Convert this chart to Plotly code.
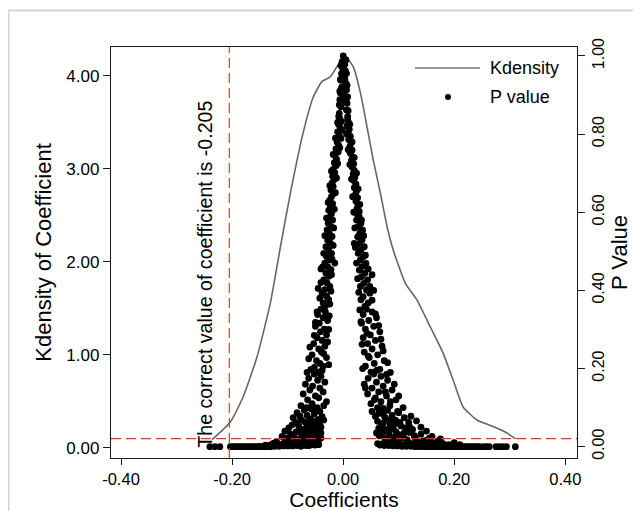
import plotly.graph_objects as go

# ---------------- data ----------------
kd_coef = [-0.236, -0.203, -0.180, -0.155, -0.131, -0.113, -0.095, -0.072, -0.054, -0.038,
           -0.023, -0.011, 0.000, 0.004, 0.018, 0.031, 0.043, 0.054, 0.067, 0.079,
           0.090, 0.112, 0.133, 0.157, 0.180, 0.198, 0.216, 0.241, 0.270, 0.295, 0.310]
kd_dens = [0.09, 0.28, 0.55, 0.98, 1.56, 2.16, 2.74, 3.39, 3.77, 3.94,
           3.99, 4.10, 4.20, 4.21, 4.10, 3.82, 3.45, 3.10, 2.74, 2.38,
           2.13, 1.77, 1.59, 1.30, 1.02, 0.73, 0.44, 0.30, 0.23, 0.16, 0.10]

top_pts = [(0.000, 1.000), (0.002, 0.992), (-0.002, 0.985), (0.003, 0.978), (-0.001, 0.970),
           (0.004, 0.962), (-0.003, 0.955), (0.002, 0.947), (-0.004, 0.938), (0.005, 0.930),
           (-0.002, 0.921), (0.006, 0.913), (-0.005, 0.905), (0.004, 0.896), (-0.006, 0.888),
           (0.007, 0.879), (-0.004, 0.870), (0.006, 0.862), (-0.007, 0.853), (0.008, 0.845),
           (0.001, 0.975), (-0.001, 0.958), (0.003, 0.940), (-0.003, 0.918), (0.001, 0.900),
           (0.004, 0.883), (0.005, 0.990), (-0.004, 0.975), (0.006, 0.955), (-0.005, 0.940),
           (0.007, 0.925), (-0.006, 0.910), (0.008, 0.895), (-0.007, 0.875), (0.009, 0.860),
           (-0.008, 0.845)]

left_arm = [(-0.006, 0.840), (-0.003, 0.832), (-0.008, 0.824), (-0.005, 0.815), (-0.010, 0.806),
            (-0.007, 0.797), (-0.004, 0.789), (-0.011, 0.780), (-0.008, 0.771), (-0.013, 0.762),
            (-0.009, 0.754), (-0.015, 0.745), (-0.012, 0.736), (-0.016, 0.727), (-0.013, 0.719),
            (-0.018, 0.710), (-0.015, 0.701), (-0.019, 0.692), (-0.016, 0.684), (-0.020, 0.675),
            (-0.018, 0.666), (-0.022, 0.657), (-0.017, 0.648), (-0.021, 0.640), (-0.024, 0.631),
            (-0.019, 0.622), (-0.023, 0.613), (-0.026, 0.605), (-0.021, 0.596),
            (-0.024, 0.588), (-0.019, 0.580), (-0.027, 0.572), (-0.022, 0.563), (-0.029, 0.555),
            (-0.025, 0.546), (-0.020, 0.538), (-0.028, 0.529), (-0.023, 0.521), (-0.031, 0.512),
            (-0.026, 0.504), (-0.021, 0.495), (-0.030, 0.487), (-0.025, 0.478), (-0.033, 0.470),
            (-0.028, 0.461), (-0.022, 0.453), (-0.031, 0.444), (-0.026, 0.436), (-0.035, 0.427),
            (-0.029, 0.419), (-0.024, 0.410), (-0.033, 0.402), (-0.038, 0.393), (-0.030, 0.385),
            (-0.026, 0.376), (-0.036, 0.368), (-0.032, 0.360), (-0.045, 0.405), (-0.040, 0.455),
            (-0.015, 0.470),
            (-0.040, 0.352), (-0.032, 0.345), (-0.046, 0.338), (-0.036, 0.330), (-0.028, 0.323),
            (-0.043, 0.316), (-0.050, 0.308), (-0.034, 0.301), (-0.041, 0.294), (-0.030, 0.286),
            (-0.047, 0.279), (-0.038, 0.272), (-0.053, 0.264), (-0.033, 0.257), (-0.044, 0.250),
            (-0.039, 0.242), (-0.056, 0.235), (-0.030, 0.228), (-0.048, 0.220), (-0.042, 0.213),
            (-0.036, 0.206), (-0.058, 0.198), (-0.045, 0.191),
            (-0.052, 0.186), (-0.040, 0.180), (-0.062, 0.175), (-0.046, 0.170), (-0.033, 0.165),
            (-0.068, 0.160), (-0.055, 0.155), (-0.042, 0.150), (-0.060, 0.145), (-0.036, 0.140),
            (-0.072, 0.135), (-0.050, 0.130), (-0.044, 0.125), (-0.064, 0.120), (-0.030, 0.115),
            (-0.056, 0.110), (-0.076, 0.105), (-0.047, 0.100),
            (-0.058, 0.097), (-0.070, 0.093), (-0.042, 0.090), (-0.083, 0.087), (-0.052, 0.084),
            (-0.065, 0.080), (-0.038, 0.077), (-0.090, 0.074), (-0.060, 0.071), (-0.075, 0.068),
            (-0.047, 0.065), (-0.068, 0.062), (-0.055, 0.059), (-0.092, 0.056), (-0.080, 0.053),
            (-0.040, 0.050), (-0.062, 0.047), (-0.072, 0.044), (-0.050, 0.042),
            (-0.105, 0.040), (-0.085, 0.038), (-0.065, 0.036), (-0.048, 0.034), (-0.095, 0.032),
            (-0.075, 0.030), (-0.058, 0.028), (-0.110, 0.026), (-0.088, 0.024), (-0.070, 0.022),
            (-0.052, 0.020), (-0.100, 0.018), (-0.080, 0.016), (-0.062, 0.015), (-0.045, 0.014),
            (-0.120, 0.013), (-0.092, 0.012),
            (-0.045, 0.070), (-0.050, 0.030), (-0.055, 0.045), (-0.043, 0.060), (-0.060, 0.025),
            (-0.048, 0.010), (-0.066, 0.008), (-0.040, 0.022), (-0.072, 0.035), (-0.057, 0.068),
            (-0.085, 0.020), (-0.078, 0.009), (-0.098, 0.008), (-0.112, 0.006), (-0.130, 0.005),
            (-0.045, 0.045), (-0.052, 0.088),
            (-0.010, 0.830), (-0.002, 0.810), (-0.014, 0.790), (-0.006, 0.765), (-0.018, 0.748),
            (-0.010, 0.725), (-0.021, 0.705), (-0.012, 0.688), (-0.024, 0.668), (-0.014, 0.650),
            (-0.027, 0.625), (-0.016, 0.608), (-0.030, 0.585), (-0.017, 0.560), (-0.033, 0.540),
            (-0.018, 0.515), (-0.035, 0.495), (-0.020, 0.480), (-0.037, 0.460), (-0.021, 0.440),
            (-0.040, 0.420), (-0.022, 0.398), (-0.042, 0.380), (-0.024, 0.365), (-0.047, 0.345),
            (-0.025, 0.335), (-0.050, 0.318), (-0.026, 0.300), (-0.052, 0.285), (-0.028, 0.268),
            (-0.060, 0.255), (-0.035, 0.238), (-0.062, 0.225), (-0.026, 0.210), (-0.052, 0.203),
            (-0.065, 0.190), (-0.038, 0.195),
            (-0.035, 0.105), (-0.066, 0.100), (-0.048, 0.092), (-0.078, 0.078), (-0.035, 0.068),
            (-0.085, 0.062), (-0.064, 0.055), (-0.046, 0.052), (-0.098, 0.048), (-0.056, 0.038),
            (-0.080, 0.040), (-0.040, 0.035), (-0.068, 0.027), (-0.104, 0.022), (-0.046, 0.025),
            (-0.094, 0.014), (-0.058, 0.012), (-0.072, 0.012), (-0.084, 0.004), (-0.106, 0.010),
            (-0.118, 0.004), (-0.125, 0.009), (-0.140, 0.004), (-0.044, 0.005), (-0.062, 0.003),
            (-0.076, 0.001)]

right_arm = [(0.008, 0.838), (0.010, 0.829), (0.007, 0.821), (0.011, 0.812), (0.009, 0.803),
             (0.013, 0.794), (0.010, 0.786), (0.014, 0.777), (0.012, 0.768), (0.016, 0.759),
             (0.013, 0.751), (0.017, 0.742), (0.015, 0.733), (0.019, 0.724), (0.016, 0.716),
             (0.020, 0.707), (0.018, 0.698), (0.021, 0.689), (0.019, 0.681), (0.023, 0.672),
             (0.020, 0.663), (0.024, 0.654), (0.022, 0.645), (0.026, 0.637), (0.023, 0.628),
             (0.027, 0.619), (0.025, 0.610), (0.029, 0.602), (0.026, 0.593),
             (0.029, 0.588), (0.024, 0.580), (0.032, 0.571), (0.027, 0.563), (0.035, 0.554),
             (0.030, 0.546), (0.026, 0.537), (0.034, 0.529), (0.029, 0.520), (0.038, 0.512),
             (0.032, 0.503), (0.027, 0.495), (0.036, 0.486), (0.031, 0.478), (0.041, 0.469),
             (0.034, 0.461), (0.029, 0.452), (0.039, 0.444), (0.033, 0.435), (0.044, 0.427),
             (0.037, 0.418), (0.031, 0.410), (0.042, 0.401), (0.048, 0.393), (0.036, 0.384),
             (0.032, 0.376), (0.045, 0.368), (0.039, 0.359), (0.052, 0.440), (0.020, 0.520),
             (0.055, 0.400),
             (0.042, 0.352), (0.052, 0.345), (0.036, 0.338), (0.060, 0.330), (0.046, 0.323),
             (0.033, 0.316), (0.055, 0.308), (0.040, 0.301), (0.066, 0.294), (0.049, 0.286),
             (0.036, 0.279), (0.058, 0.272), (0.044, 0.264), (0.070, 0.257), (0.052, 0.250),
             (0.038, 0.242), (0.062, 0.235), (0.047, 0.228), (0.074, 0.220), (0.056, 0.213),
             (0.040, 0.206), (0.066, 0.198), (0.050, 0.191), (0.078, 0.185),
             (0.055, 0.186), (0.068, 0.180), (0.045, 0.175), (0.080, 0.170), (0.060, 0.165),
             (0.038, 0.160), (0.072, 0.155), (0.052, 0.150), (0.088, 0.145), (0.064, 0.140),
             (0.044, 0.135), (0.078, 0.130), (0.058, 0.125), (0.095, 0.120), (0.068, 0.115),
             (0.050, 0.110), (0.084, 0.105), (0.062, 0.100),
             (0.066, 0.097), (0.080, 0.093), (0.052, 0.090), (0.100, 0.087), (0.072, 0.084),
             (0.088, 0.080), (0.058, 0.077), (0.110, 0.074), (0.076, 0.071), (0.094, 0.068),
             (0.062, 0.065), (0.118, 0.062), (0.084, 0.059), (0.070, 0.056), (0.104, 0.053),
             (0.090, 0.050), (0.064, 0.047), (0.125, 0.044), (0.078, 0.042),
             (0.070, 0.040), (0.095, 0.038), (0.120, 0.036), (0.082, 0.034), (0.140, 0.032),
             (0.105, 0.030), (0.065, 0.028), (0.160, 0.026), (0.090, 0.024), (0.130, 0.022),
             (0.075, 0.020), (0.115, 0.018), (0.150, 0.016), (0.100, 0.015), (0.170, 0.014),
             (0.085, 0.013), (0.135, 0.012),
             (0.070, 0.030), (0.080, 0.010), (0.090, 0.045), (0.100, 0.020), (0.110, 0.035),
             (0.125, 0.008), (0.095, 0.060), (0.075, 0.075), (0.085, 0.025), (0.105, 0.005),
             (0.145, 0.007), (0.160, 0.010), (0.180, 0.008), (0.190, 0.005), (0.120, 0.050),
             (0.068, 0.050), (0.060, 0.035),
             (0.012, 0.825), (0.006, 0.800), (0.016, 0.780), (0.009, 0.760), (0.020, 0.740),
             (0.012, 0.722), (0.024, 0.700), (0.015, 0.685), (0.027, 0.660), (0.017, 0.640),
             (0.030, 0.620), (0.019, 0.600), (0.033, 0.580), (0.021, 0.560), (0.037, 0.540),
             (0.022, 0.510), (0.040, 0.490), (0.024, 0.470), (0.045, 0.455), (0.026, 0.430),
             (0.048, 0.410), (0.028, 0.395), (0.052, 0.375), (0.030, 0.350), (0.058, 0.340),
             (0.032, 0.320), (0.064, 0.310), (0.043, 0.290), (0.068, 0.275), (0.034, 0.262),
             (0.072, 0.245), (0.045, 0.232), (0.080, 0.215), (0.035, 0.200), (0.060, 0.195),
             (0.085, 0.190),
             (0.040, 0.150), (0.092, 0.160), (0.076, 0.140), (0.100, 0.130), (0.056, 0.120),
             (0.085, 0.115), (0.108, 0.100), (0.072, 0.098), (0.098, 0.090), (0.122, 0.078),
             (0.064, 0.085), (0.086, 0.070), (0.132, 0.066), (0.102, 0.062), (0.072, 0.060),
             (0.140, 0.050), (0.112, 0.048), (0.080, 0.045), (0.150, 0.040), (0.098, 0.032),
             (0.128, 0.028), (0.155, 0.022), (0.108, 0.022), (0.175, 0.020), (0.145, 0.015),
             (0.118, 0.010), (0.200, 0.010), (0.165, 0.004), (0.138, 0.006), (0.210, 0.005),
             (0.092, 0.012), (0.076, 0.015)]

bottom_left = [(-0.240, 0.000), (-0.231, 0.000), (-0.222, 0.000),
               (-0.203, 0.000), (-0.199, 0.000), (-0.195, 0.000), (-0.191, 0.000), (-0.187, 0.000),
               (-0.183, 0.000), (-0.179, 0.000), (-0.175, 0.000), (-0.171, 0.000), (-0.167, 0.000),
               (-0.163, 0.000), (-0.159, 0.000), (-0.155, 0.000), (-0.151, 0.001), (-0.147, 0.000),
               (-0.143, 0.001), (-0.139, 0.000), (-0.135, 0.002), (-0.131, 0.000), (-0.127, 0.002),
               (-0.123, 0.001), (-0.119, 0.003), (-0.115, 0.001), (-0.111, 0.003), (-0.107, 0.002),
               (-0.103, 0.004), (-0.099, 0.002), (-0.095, 0.005), (-0.091, 0.002), (-0.087, 0.005),
               (-0.083, 0.003), (-0.079, 0.006), (-0.075, 0.003), (-0.071, 0.006), (-0.067, 0.003),
               (-0.063, 0.007), (-0.059, 0.004), (-0.055, 0.008), (-0.051, 0.004), (-0.047, 0.006)]

bottom_right = [(0.062, 0.008), (0.066, 0.004), (0.070, 0.007), (0.074, 0.003), (0.078, 0.006),
                (0.082, 0.003), (0.086, 0.006), (0.090, 0.002), (0.094, 0.005), (0.098, 0.002),
                (0.102, 0.004), (0.106, 0.001), (0.110, 0.004), (0.114, 0.001), (0.118, 0.003),
                (0.122, 0.001), (0.126, 0.003), (0.130, 0.000), (0.134, 0.002), (0.138, 0.000),
                (0.142, 0.002), (0.146, 0.000), (0.150, 0.001), (0.154, 0.000), (0.158, 0.001),
                (0.162, 0.000), (0.166, 0.000), (0.170, 0.001), (0.174, 0.000), (0.178, 0.000),
                (0.182, 0.000), (0.186, 0.000), (0.190, 0.000), (0.194, 0.000), (0.198, 0.000),
                (0.202, 0.000), (0.206, 0.000), (0.210, 0.000), (0.214, 0.000), (0.218, 0.000),
                (0.222, 0.000), (0.226, 0.000), (0.230, 0.000), (0.234, 0.000), (0.238, 0.000),
                (0.242, 0.000), (0.246, 0.000), (0.253, 0.000), (0.258, 0.000), (0.263, 0.000),
                (0.275, 0.000), (0.281, 0.000), (0.287, 0.000), (0.294, 0.000), (0.310, 0.000)]

x_tickvals = [-0.4, -0.2, 0.0, 0.2, 0.4]
x_ticktext = ["-0.40", "-0.20", "0.00", "0.20", "0.40"]
y_tickvals = [0, 1, 2, 3, 4]
y_ticktext = ["0.00", "1.00", "2.00", "3.00", "4.00"]
p_tickvals = [0.0, 0.2, 0.4, 0.6, 0.8, 1.0]
p_ticktext = ["0.00", "0.20", "0.40", "0.60", "0.80", "1.00"]

true_coef = -0.205
density_ref = 0.1
note_text = "The correct value of coefficient is -0.205"

# ---------------- figure ----------------
all_pts = top_pts + left_arm + right_arm + bottom_left + bottom_right
pt_coef = [c for c, _ in all_pts]
pt_pval = [p for _, p in all_pts]

FONT = "Liberation Sans, Arial, sans-serif"
AX = "#1a1a1a"

fig = go.Figure()
fig.add_trace(go.Scatter(x=kd_coef, y=kd_dens, mode="lines", name="Kdensity",
                         line=dict(color="#666666", width=1.6, shape="spline", smoothing=0.5),
                         yaxis="y", showlegend=False, hoverinfo="skip"))
fig.add_trace(go.Scatter(x=pt_coef, y=pt_pval, mode="markers", name="P value",
                         marker=dict(color="black", size=6.8, line=dict(width=0)),
                         yaxis="y2", showlegend=False, cliponaxis=False))

# page body has an 8px margin, so the figure is drawn 8px in from the window edge
OFF = 8
W, H = 633, 503
L, R, T, B = 103, 64, 39, 53
pw, ph = W - L - R, H - T - B


def px(xw):
    """window x pixel -> paper x"""
    return (xw - OFF - L) / pw


def py(yw):
    """window y pixel -> paper y"""
    return (H - B - (yw - OFF)) / ph


shapes = [
    # outer light frame
    dict(type="rect", xref="paper", yref="paper", x0=px(8.5), x1=px(700), y0=py(600), y1=py(10.5),
         line=dict(color="#d4d4d4", width=2), fillcolor="rgba(0,0,0,0)", layer="below"),
    # reference lines
    dict(type="line", xref="x", yref="paper", x0=true_coef, x1=true_coef, y0=0, y1=1,
         line=dict(color="#ff2a2a", width=1.2, dash="10px,5px")),
    dict(type="line", xref="paper", yref="y", x0=0, x1=1, y0=density_ref, y1=density_ref,
         line=dict(color="#ff2a2a", width=1.2, dash="10px,5px")),
    # legend symbols
    dict(type="line", xref="paper", yref="paper", x0=px(415), x1=px(480), y0=py(68), y1=py(68),
         line=dict(color="#777777", width=1.6)),
    dict(type="circle", xref="paper", yref="paper", x0=px(445), x1=px(451), y0=py(100), y1=py(94),
         fillcolor="black", line=dict(color="black", width=0)),
]

annotations = [
    dict(text=note_text, x=-0.248, y=-0.02, xref="x", yref="y", textangle=-90,
         xanchor="center", yanchor="bottom", showarrow=False,
         font=dict(family=FONT, size=19.6, color="black")),
    dict(text="Kdensity", x=px(488), y=py(68), xref="paper", yref="paper",
         xanchor="left", yanchor="middle", showarrow=False,
         font=dict(family=FONT, size=18, color="black")),
    dict(text="P value", x=px(488), y=py(97), xref="paper", yref="paper",
         xanchor="left", yanchor="middle", showarrow=False,
         font=dict(family=FONT, size=18, color="black")),
]

fig.update_layout(
    width=W, height=H,
    margin=dict(l=L, r=R, t=T, b=B, pad=0, autoexpand=False),
    paper_bgcolor="white", plot_bgcolor="white",
    showlegend=False,
    font=dict(family=FONT, color="black"),
    xaxis=dict(range=[-0.418, 0.421], tickvals=x_tickvals, ticktext=x_ticktext,
               ticks="outside", ticklen=6, tickwidth=1.2, tickcolor=AX,
               showline=True, linecolor=AX, linewidth=1.3, mirror=True,
               showgrid=False, zeroline=False, automargin=False,
               tickfont=dict(family=FONT, size=16.5, color="black"),
               title=dict(text="Coefficients", font=dict(family=FONT, size=21, color="black"),
                          standoff=4)),
    yaxis=dict(range=[-0.108, 4.31], tickvals=y_tickvals, ticktext=y_ticktext,
               ticks="outside", ticklen=7, tickwidth=1.2, tickcolor=AX,
               showline=True, linecolor=AX, linewidth=1.3,
               showgrid=False, zeroline=False, automargin=False,
               tickfont=dict(family=FONT, size=17, color="black"),
               title=dict(text="Kdensity of Coefficient", font=dict(family=FONT, size=22, color="black"),
                          standoff=8)),
    yaxis2=dict(range=[-0.029, 1.023], tickvals=p_tickvals, ticktext=p_ticktext,
                overlaying="y", side="right", tickangle=-90,
                ticks="outside", ticklen=7, tickwidth=1.2, tickcolor=AX,
                showline=True, linecolor=AX, linewidth=1.3,
                showgrid=False, zeroline=False, automargin=False,
                tickfont=dict(family=FONT, size=16, color="black"),
                title=dict(text="P Value", font=dict(family=FONT, size=22, color="black"),
                           standoff=2)),
    shapes=shapes,
    annotations=annotations,
)

fig.write_html("out.html")
